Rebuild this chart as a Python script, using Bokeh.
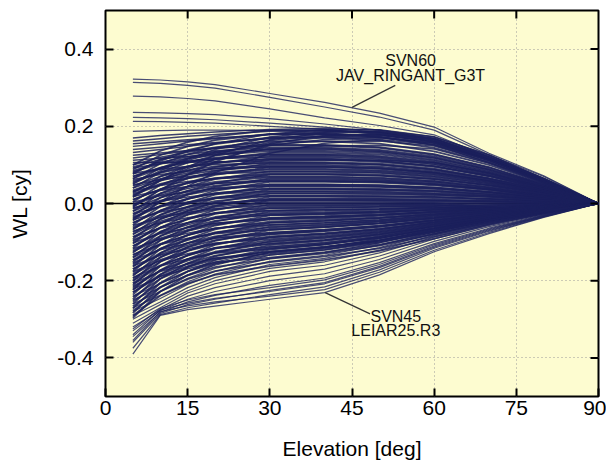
from math import pi
from bokeh.plotting import figure
from bokeh.models import Range1d, FixedTicker, PrintfTickFormatter, Span, ColumnDataSource
from bokeh.core.properties import value
from bokeh.embed import file_html
from bokeh.resources import INLINE

# Elevation nodes [deg]
elevation = [5, 10, 15, 20, 30, 40, 50, 60, 70, 80, 90]

# WL [cy] curves (values at the elevation nodes)
top_curves = [
    [0.322, 0.320, 0.315, 0.308, 0.285, 0.262, 0.234, 0.198, 0.130, 0.072, 0.0],
    [0.314, 0.311, 0.306, 0.299, 0.275, 0.250, 0.224, 0.190, 0.126, 0.070, 0.0],
    [0.278, 0.276, 0.272, 0.266, 0.245, 0.222, 0.202, 0.178, 0.120, 0.066, 0.0],
    [0.236, 0.235, 0.233, 0.230, 0.220, 0.206, 0.190, 0.168, 0.116, 0.063, 0.0],
    [0.223, 0.222, 0.220, 0.217, 0.208, 0.198, 0.184, 0.164, 0.114, 0.062, 0.0],
    [0.213, 0.212, 0.210, 0.208, 0.200, 0.192, 0.179, 0.160, 0.111, 0.060, 0.0],
    [0.187, 0.189, 0.190, 0.190, 0.189, 0.184, 0.172, 0.152, 0.106, 0.057, 0.0],
]

upper_curves = [
    [0.170, 0.176, 0.181, 0.185, 0.192, 0.195, 0.190, 0.172, 0.125, 0.065, 0.0],
    [0.162, 0.168, 0.174, 0.179, 0.187, 0.190, 0.185, 0.167, 0.120, 0.062, 0.0],
    [0.155, 0.160, 0.165, 0.170, 0.178, 0.181, 0.177, 0.160, 0.116, 0.060, 0.0],
    [0.148, 0.155, 0.162, 0.168, 0.180, 0.187, 0.183, 0.165, 0.118, 0.060, 0.0],
    [0.140, 0.146, 0.152, 0.158, 0.168, 0.174, 0.171, 0.156, 0.112, 0.057, 0.0],
    [0.132, 0.140, 0.148, 0.156, 0.170, 0.179, 0.178, 0.162, 0.115, 0.058, 0.0],
    [0.125, 0.131, 0.137, 0.143, 0.154, 0.161, 0.162, 0.149, 0.108, 0.055, 0.0],
    [0.118, 0.127, 0.136, 0.146, 0.163, 0.175, 0.177, 0.161, 0.116, 0.058, 0.0],
    [0.112, 0.117, 0.122, 0.128, 0.140, 0.149, 0.151, 0.141, 0.104, 0.053, 0.0],
    [0.106, 0.106, 0.107, 0.108, 0.110, 0.112, 0.112, 0.106, 0.080, 0.042, 0.0],
]

rising_curves = [
    [0.080, 0.110, 0.135, 0.155, 0.180, 0.191, 0.191, 0.173, 0.126, 0.064, 0.0],
    [0.050, 0.085, 0.115, 0.140, 0.172, 0.186, 0.187, 0.169, 0.122, 0.062, 0.0],
    [0.020, 0.060, 0.095, 0.125, 0.165, 0.183, 0.186, 0.168, 0.121, 0.061, 0.0],
    [-0.010, 0.035, 0.075, 0.108, 0.155, 0.176, 0.181, 0.165, 0.119, 0.060, 0.0],
    [0.065, 0.090, 0.112, 0.130, 0.158, 0.171, 0.173, 0.158, 0.114, 0.058, 0.0],
    [0.030, 0.062, 0.090, 0.114, 0.150, 0.166, 0.170, 0.156, 0.113, 0.057, 0.0],
    [-0.040, 0.005, 0.045, 0.080, 0.130, 0.156, 0.166, 0.153, 0.112, 0.057, 0.0],
]

middle_curves = [
    [0.100, 0.136, 0.159, 0.174, 0.190, 0.190, 0.182, 0.160, 0.118, 0.063, 0.0],
    [0.094, 0.114, 0.127, 0.136, 0.145, 0.145, 0.139, 0.122, 0.090, 0.048, 0.0],
    [0.088, 0.125, 0.148, 0.164, 0.180, 0.180, 0.173, 0.151, 0.112, 0.059, 0.0],
    [0.082, 0.103, 0.117, 0.126, 0.136, 0.136, 0.131, 0.114, 0.084, 0.045, 0.0],
    [0.076, 0.114, 0.138, 0.154, 0.171, 0.171, 0.164, 0.144, 0.106, 0.056, 0.0],
    [0.070, 0.092, 0.106, 0.116, 0.126, 0.126, 0.121, 0.106, 0.078, 0.042, 0.0],
    [0.064, 0.103, 0.127, 0.144, 0.161, 0.161, 0.155, 0.135, 0.100, 0.053, 0.0],
    [0.058, 0.081, 0.096, 0.106, 0.116, 0.116, 0.111, 0.097, 0.072, 0.038, 0.0],
    [0.052, 0.092, 0.117, 0.134, 0.152, 0.152, 0.146, 0.128, 0.094, 0.050, 0.0],
    [0.046, 0.070, 0.086, 0.096, 0.107, 0.107, 0.103, 0.090, 0.066, 0.035, 0.0],
    [0.040, 0.081, 0.106, 0.124, 0.142, 0.142, 0.136, 0.119, 0.088, 0.047, 0.0],
    [0.034, 0.059, 0.075, 0.086, 0.097, 0.097, 0.093, 0.081, 0.060, 0.032, 0.0],
    [0.028, 0.070, 0.096, 0.114, 0.132, 0.132, 0.127, 0.111, 0.082, 0.044, 0.0],
    [0.022, 0.048, 0.065, 0.076, 0.088, 0.088, 0.084, 0.074, 0.055, 0.029, 0.0],
    [0.016, 0.059, 0.085, 0.104, 0.123, 0.123, 0.118, 0.103, 0.076, 0.041, 0.0],
    [0.010, 0.037, 0.054, 0.066, 0.078, 0.078, 0.075, 0.066, 0.048, 0.026, 0.0],
    [0.004, 0.048, 0.075, 0.094, 0.113, 0.113, 0.108, 0.095, 0.070, 0.037, 0.0],
    [-0.002, 0.026, 0.044, 0.056, 0.068, 0.068, 0.065, 0.057, 0.042, 0.022, 0.0],
    [-0.008, 0.037, 0.065, 0.084, 0.104, 0.104, 0.100, 0.087, 0.064, 0.034, 0.0],
    [-0.014, 0.015, 0.033, 0.046, 0.059, 0.059, 0.057, 0.050, 0.037, 0.019, 0.0],
    [-0.020, 0.026, 0.054, 0.074, 0.094, 0.094, 0.090, 0.079, 0.058, 0.031, 0.0],
    [-0.026, 0.004, 0.023, 0.036, 0.049, 0.049, 0.047, 0.041, 0.030, 0.016, 0.0],
    [-0.032, 0.015, 0.044, 0.063, 0.084, 0.084, 0.081, 0.071, 0.052, 0.028, 0.0],
    [-0.038, -0.007, 0.012, 0.026, 0.040, 0.040, 0.038, 0.034, 0.025, 0.013, 0.0],
    [-0.044, 0.004, 0.033, 0.053, 0.075, 0.075, 0.072, 0.063, 0.047, 0.025, 0.0],
    [-0.050, -0.018, 0.002, 0.016, 0.030, 0.030, 0.029, 0.025, 0.019, 0.010, 0.0],
    [-0.056, -0.008, 0.023, 0.043, 0.065, 0.065, 0.062, 0.055, 0.040, 0.021, 0.0],
    [-0.062, -0.029, -0.008, 0.006, 0.020, 0.020, 0.019, 0.017, 0.012, 0.007, 0.0],
    [-0.068, -0.019, 0.012, 0.033, 0.056, 0.056, 0.054, 0.047, 0.035, 0.018, 0.0],
    [-0.074, -0.040, -0.019, -0.005, 0.011, 0.011, 0.011, 0.009, 0.007, 0.004, 0.0],
    [-0.080, -0.030, 0.002, 0.023, 0.046, 0.046, 0.044, 0.039, 0.029, 0.015, 0.0],
    [-0.086, -0.051, -0.029, -0.015, 0.001, 0.001, 0.001, 0.001, -0.008, -0.018, 0.0],
    [-0.092, -0.041, -0.009, 0.013, 0.036, 0.036, 0.035, 0.031, 0.022, 0.012, 0.0],
    [-0.098, -0.062, -0.040, -0.025, -0.008, -0.007, -0.006, -0.004, -0.012, -0.022, 0.0],
    [-0.104, -0.052, -0.019, 0.003, 0.027, 0.027, 0.026, 0.023, 0.017, 0.009, 0.0],
    [-0.110, -0.073, -0.050, -0.035, -0.018, -0.016, -0.014, -0.010, -0.014, -0.024, 0.0],
    [-0.116, -0.063, -0.029, -0.007, 0.017, 0.017, 0.016, 0.014, 0.011, 0.006, 0.0],
    [-0.122, -0.084, -0.061, -0.045, -0.028, -0.025, -0.021, -0.016, -0.009, -0.004, 0.0],
    [-0.128, -0.074, -0.040, -0.017, 0.008, 0.008, 0.007, 0.006, 0.005, 0.003, 0.0],
    [-0.134, -0.095, -0.071, -0.055, -0.037, -0.033, -0.028, -0.021, -0.013, -0.006, 0.0],
    [-0.140, -0.085, -0.050, -0.027, -0.002, -0.002, -0.002, -0.001, -0.001, 0.000, 0.0],
    [-0.146, -0.106, -0.082, -0.065, -0.047, -0.042, -0.036, -0.026, -0.016, -0.008, 0.0],
    [-0.152, -0.096, -0.061, -0.037, -0.012, -0.011, -0.009, -0.007, -0.004, -0.002, 0.0],
    [-0.158, -0.117, -0.092, -0.075, -0.056, -0.050, -0.043, -0.031, -0.019, -0.009, 0.0],
    [-0.164, -0.107, -0.071, -0.047, -0.021, -0.019, -0.016, -0.012, -0.007, -0.003, 0.0],
    [-0.170, -0.128, -0.102, -0.085, -0.066, -0.059, -0.050, -0.037, -0.022, -0.011, 0.0],
    [-0.176, -0.118, -0.082, -0.057, -0.031, -0.028, -0.024, -0.017, -0.011, -0.005, 0.0],
    [-0.182, -0.139, -0.113, -0.095, -0.076, -0.068, -0.058, -0.043, -0.026, -0.012, 0.0],
    [-0.188, -0.129, -0.092, -0.067, -0.040, -0.036, -0.030, -0.022, -0.014, -0.006, 0.0],
    [-0.194, -0.151, -0.123, -0.105, -0.085, -0.077, -0.065, -0.048, -0.029, -0.014, 0.0],
    [-0.200, -0.140, -0.103, -0.077, -0.050, -0.045, -0.038, -0.028, -0.017, -0.008, 0.0],
    [-0.206, -0.162, -0.134, -0.115, -0.095, -0.086, -0.072, -0.053, -0.032, -0.015, 0.0],
    [-0.212, -0.151, -0.113, -0.087, -0.060, -0.054, -0.046, -0.034, -0.020, -0.010, 0.0],
    [-0.218, -0.173, -0.144, -0.125, -0.104, -0.094, -0.079, -0.058, -0.035, -0.017, 0.0],
    [-0.224, -0.162, -0.123, -0.097, -0.069, -0.062, -0.052, -0.039, -0.023, -0.011, 0.0],
    [-0.230, -0.184, -0.155, -0.135, -0.114, -0.103, -0.087, -0.064, -0.039, -0.018, 0.0],
    [-0.236, -0.173, -0.134, -0.107, -0.079, -0.071, -0.060, -0.044, -0.027, -0.013, 0.0],
    [-0.242, -0.195, -0.165, -0.145, -0.124, -0.112, -0.094, -0.069, -0.042, -0.020, 0.0],
    [-0.248, -0.184, -0.144, -0.117, -0.088, -0.079, -0.067, -0.049, -0.030, -0.014, 0.0],
    [-0.254, -0.206, -0.176, -0.155, -0.133, -0.120, -0.101, -0.074, -0.045, -0.021, 0.0],
    [-0.260, -0.195, -0.155, -0.127, -0.098, -0.088, -0.074, -0.055, -0.033, -0.016, 0.0],
    [-0.266, -0.217, -0.186, -0.165, -0.143, -0.129, -0.109, -0.080, -0.049, -0.023, 0.0],
    [-0.272, -0.206, -0.165, -0.137, -0.108, -0.097, -0.082, -0.060, -0.037, -0.017, 0.0],
    [-0.278, -0.228, -0.196, -0.175, -0.152, -0.137, -0.116, -0.085, -0.052, -0.024, 0.0],
    [-0.284, -0.217, -0.176, -0.147, -0.117, -0.105, -0.089, -0.066, -0.040, -0.019, 0.0],
    [-0.290, -0.239, -0.207, -0.185, -0.162, -0.146, -0.123, -0.091, -0.055, -0.026, 0.0],
    [-0.296, -0.228, -0.186, -0.157, -0.127, -0.114, -0.097, -0.071, -0.043, -0.020, 0.0],
]

middle_curves_b = [
    [0.100, 0.120, 0.133, 0.143, 0.150, 0.150, 0.144, 0.126, 0.093, 0.050, 0.0],
    [0.092, 0.103, 0.110, 0.116, 0.120, 0.120, 0.115, 0.101, 0.074, 0.040, 0.0],
    [0.085, 0.107, 0.121, 0.132, 0.140, 0.140, 0.134, 0.118, 0.087, 0.046, 0.0],
    [0.078, 0.089, 0.096, 0.101, 0.105, 0.105, 0.101, 0.088, 0.065, 0.035, 0.0],
    [0.070, 0.093, 0.108, 0.119, 0.128, 0.128, 0.123, 0.108, 0.079, 0.042, 0.0],
    [0.062, 0.075, 0.083, 0.090, 0.095, 0.095, 0.091, 0.080, 0.059, 0.031, 0.0],
    [0.055, 0.079, 0.094, 0.106, 0.115, 0.115, 0.110, 0.097, 0.071, 0.038, 0.0],
    [0.048, 0.062, 0.070, 0.077, 0.082, 0.082, 0.079, 0.069, 0.051, 0.027, 0.0],
    [0.040, 0.064, 0.079, 0.091, 0.100, 0.100, 0.096, 0.084, 0.062, 0.033, 0.0],
    [0.032, 0.047, 0.057, 0.064, 0.070, 0.070, 0.067, 0.059, 0.043, 0.023, 0.0],
    [0.025, 0.051, 0.067, 0.080, 0.090, 0.090, 0.086, 0.076, 0.056, 0.030, 0.0],
    [0.018, 0.034, 0.044, 0.052, 0.058, 0.058, 0.056, 0.049, 0.036, 0.019, 0.0],
    [0.010, 0.036, 0.052, 0.065, 0.075, 0.075, 0.072, 0.063, 0.047, 0.025, 0.0],
    [0.003, 0.020, 0.030, 0.039, 0.045, 0.045, 0.043, 0.038, 0.028, 0.015, 0.0],
    [-0.005, 0.022, 0.039, 0.052, 0.062, 0.062, 0.060, 0.052, 0.038, 0.020, 0.0],
    [-0.012, 0.006, 0.017, 0.025, 0.032, 0.032, 0.031, 0.027, 0.020, 0.011, 0.0],
    [-0.020, 0.008, 0.026, 0.040, 0.050, 0.050, 0.048, 0.042, 0.031, 0.017, 0.0],
    [-0.027, -0.008, 0.004, 0.013, 0.020, 0.020, 0.019, 0.017, 0.012, 0.007, 0.0],
    [-0.035, -0.006, 0.012, 0.027, 0.038, 0.038, 0.036, 0.032, 0.024, 0.013, 0.0],
    [-0.042, -0.022, -0.010, 0.001, 0.008, 0.008, 0.008, 0.007, 0.005, 0.003, 0.0],
    [-0.050, -0.020, -0.001, 0.014, 0.025, 0.025, 0.024, 0.021, 0.016, 0.008, 0.0],
    [-0.057, -0.036, -0.023, -0.013, -0.005, -0.005, -0.004, -0.003, -0.010, -0.018, 0.0],
    [-0.065, -0.034, -0.015, 0.000, 0.012, 0.012, 0.012, 0.010, 0.007, 0.004, 0.0],
    [-0.072, -0.050, -0.037, -0.026, -0.018, -0.016, -0.014, -0.010, -0.014, -0.022, 0.0],
    [-0.080, -0.046, -0.025, -0.009, 0.004, 0.004, 0.004, 0.003, 0.002, 0.001, 0.0],
    [-0.087, -0.064, -0.050, -0.039, -0.030, -0.027, -0.023, -0.017, -0.016, -0.024, 0.0],
    [-0.095, -0.062, -0.041, -0.024, -0.012, -0.011, -0.009, -0.007, -0.004, -0.002, 0.0],
    [-0.102, -0.078, -0.063, -0.051, -0.042, -0.038, -0.032, -0.024, -0.014, -0.007, 0.0],
    [-0.110, -0.076, -0.055, -0.038, -0.025, -0.023, -0.019, -0.014, -0.009, -0.004, 0.0],
    [-0.117, -0.092, -0.077, -0.064, -0.055, -0.050, -0.042, -0.031, -0.019, -0.009, 0.0],
    [-0.125, -0.090, -0.068, -0.051, -0.038, -0.034, -0.029, -0.021, -0.013, -0.006, 0.0],
    [-0.132, -0.106, -0.090, -0.078, -0.068, -0.061, -0.052, -0.038, -0.023, -0.011, 0.0],
    [-0.140, -0.104, -0.082, -0.064, -0.050, -0.045, -0.038, -0.028, -0.017, -0.008, 0.0],
    [-0.147, -0.120, -0.103, -0.090, -0.080, -0.072, -0.061, -0.045, -0.027, -0.013, 0.0],
    [-0.155, -0.118, -0.095, -0.076, -0.062, -0.056, -0.047, -0.035, -0.021, -0.010, 0.0],
    [-0.162, -0.134, -0.117, -0.103, -0.092, -0.083, -0.070, -0.052, -0.031, -0.015, 0.0],
    [-0.170, -0.132, -0.108, -0.089, -0.075, -0.068, -0.057, -0.042, -0.026, -0.012, 0.0],
    [-0.177, -0.148, -0.130, -0.116, -0.105, -0.095, -0.080, -0.059, -0.036, -0.017, 0.0],
    [-0.185, -0.146, -0.122, -0.103, -0.088, -0.079, -0.067, -0.049, -0.030, -0.014, 0.0],
    [-0.192, -0.162, -0.144, -0.129, -0.118, -0.106, -0.090, -0.066, -0.040, -0.019, 0.0],
    [-0.200, -0.160, -0.135, -0.115, -0.100, -0.090, -0.076, -0.056, -0.034, -0.016, 0.0],
    [-0.207, -0.176, -0.157, -0.142, -0.130, -0.117, -0.099, -0.073, -0.044, -0.021, 0.0],
    [-0.215, -0.174, -0.148, -0.127, -0.112, -0.101, -0.085, -0.063, -0.038, -0.018, 0.0],
    [-0.222, -0.189, -0.169, -0.152, -0.140, -0.126, -0.106, -0.078, -0.048, -0.022, 0.0],
    [-0.230, -0.188, -0.162, -0.141, -0.125, -0.113, -0.095, -0.070, -0.043, -0.020, 0.0],
]

lower_curves = [
    [-0.390, -0.290, -0.275, -0.266, -0.248, -0.231, -0.185, -0.125, -0.078, -0.036, 0.0],
    [-0.375, -0.288, -0.270, -0.258, -0.236, -0.216, -0.172, -0.116, -0.072, -0.034, 0.0],
    [-0.360, -0.285, -0.262, -0.248, -0.225, -0.205, -0.163, -0.110, -0.068, -0.032, 0.0],
    [-0.345, -0.282, -0.255, -0.238, -0.212, -0.193, -0.153, -0.104, -0.064, -0.030, 0.0],
    [-0.330, -0.278, -0.248, -0.228, -0.200, -0.182, -0.145, -0.098, -0.060, -0.029, 0.0],
    [-0.320, -0.275, -0.240, -0.218, -0.188, -0.170, -0.136, -0.092, -0.057, -0.027, 0.0],
    [-0.310, -0.270, -0.232, -0.208, -0.176, -0.160, -0.128, -0.087, -0.054, -0.026, 0.0],
    [-0.300, -0.262, -0.226, -0.200, -0.168, -0.151, -0.121, -0.082, -0.051, -0.025, 0.0],
    [-0.290, -0.255, -0.218, -0.192, -0.158, -0.142, -0.114, -0.078, -0.048, -0.024, 0.0],
    [-0.280, -0.246, -0.210, -0.183, -0.150, -0.134, -0.108, -0.074, -0.046, -0.023, 0.0],
    [-0.270, -0.238, -0.203, -0.176, -0.142, -0.127, -0.102, -0.070, -0.044, -0.022, 0.0],
    [-0.260, -0.228, -0.194, -0.168, -0.134, -0.120, -0.096, -0.066, -0.042, -0.021, 0.0],
    [-0.250, -0.218, -0.185, -0.160, -0.126, -0.114, -0.091, -0.063, -0.040, -0.020, 0.0],
    [-0.240, -0.208, -0.176, -0.152, -0.120, -0.107, -0.086, -0.059, -0.038, -0.019, 0.0],
    [-0.355, -0.280, -0.265, -0.255, -0.240, -0.223, -0.178, -0.121, -0.075, -0.035, 0.0],
    [-0.340, -0.276, -0.258, -0.246, -0.228, -0.208, -0.166, -0.113, -0.070, -0.033, 0.0],
    [-0.325, -0.272, -0.250, -0.236, -0.218, -0.198, -0.158, -0.107, -0.066, -0.031, 0.0],
]

x_ticks = [0, 15, 30, 45, 60, 75, 90]
y_ticks = [-0.4, -0.2, 0.0, 0.2, 0.4]

FONT = "Liberation Sans"
LINE_COLOR = "#1b205c"

p = figure(width=606, height=462, output_backend="svg", toolbar_location=None,
           x_range=Range1d(0, 90), y_range=Range1d(-0.5, 0.5),
           min_border_left=105, min_border_right=8, min_border_top=10, min_border_bottom=66)
p.background_fill_color = "#fdfcd0"
p.border_fill_color = "white"
p.outline_line_color = "black"
p.outline_line_width = 2

for ax in (p.xaxis[0], p.yaxis[0]):
    ax.major_label_text_font = FONT
    ax.major_label_text_font_size = "21px"
    ax.major_label_text_color = "black"
    ax.axis_label_text_font = FONT
    ax.axis_label_text_font_size = "21px"
    ax.axis_label_text_font_style = "normal"
    ax.axis_label_text_color = "black"
    ax.major_tick_in = 8
    ax.major_tick_out = 0
    ax.major_tick_line_width = 2
    ax.minor_tick_line_color = None
    ax.axis_line_color = None

p.xaxis[0].ticker = FixedTicker(ticks=x_ticks)
p.yaxis[0].ticker = FixedTicker(ticks=y_ticks)
p.yaxis[0].formatter = PrintfTickFormatter(format="%.1f")
p.xaxis[0].axis_label = "Elevation [deg]"
p.yaxis[0].axis_label = "WL [cy]"
p.xaxis[0].major_label_standoff = 4
p.xaxis[0].axis_label_standoff = 19
p.yaxis[0].major_label_standoff = 12
p.yaxis[0].axis_label_standoff = 23

for g in (p.xgrid[0], p.ygrid[0]):
    g.grid_line_color = "#9a9a9a"
    g.grid_line_dash = "1 3"
    g.grid_line_width = 1
p.xgrid[0].ticker = FixedTicker(ticks=x_ticks)
p.ygrid[0].ticker = FixedTicker(ticks=y_ticks)

zero = Span(location=0, dimension="width", line_color="black", line_width=1.5, level="underlay")
p.add_layout(zero)

def draw(curves, width, alpha):
    src = ColumnDataSource(data=dict(xs=[elevation] * len(curves), ys=curves))
    p.multi_line(xs="xs", ys="ys", source=src, line_color=LINE_COLOR,
                 line_width=width, line_alpha=alpha)

draw(top_curves, 1.2, 0.8)
draw(lower_curves, 1.2, 0.8)
draw(upper_curves, 1.5, 0.85)
draw(rising_curves, 1.5, 0.85)
draw(middle_curves, 1.8, 0.85)
draw(middle_curves_b, 1.6, 0.85)

# mirrored inward ticks on top and right edges
p.ray(x=x_ticks[1:-1], y=[0.5] * (len(x_ticks) - 2), length=8, length_units="screen",
      angle=-pi / 2, line_color="black", line_width=2)
p.ray(x=[90] * len(y_ticks), y=y_ticks, length=8, length_units="screen",
      angle=pi, line_color="black", line_width=2)

# annotations
p.segment(x0=[45.0, 40.1], y0=[0.249, -0.231], x1=[52.9, 48.3], y1=[0.306, -0.286],
          line_color="#333333", line_width=1.2)
p.text(x=[55.7, 55.7, 53.0, 53.0], y=[0.371, 0.332, -0.294, -0.330],
       text=["SVN60", "JAV_RINGANT_G3T", "SVN45", "LEIAR25.R3"],
       text_font=value(FONT), text_font_size="16px", text_color="#111111",
       text_align="center", text_baseline="middle")

open("out.html", "w").write(file_html(p, INLINE))
